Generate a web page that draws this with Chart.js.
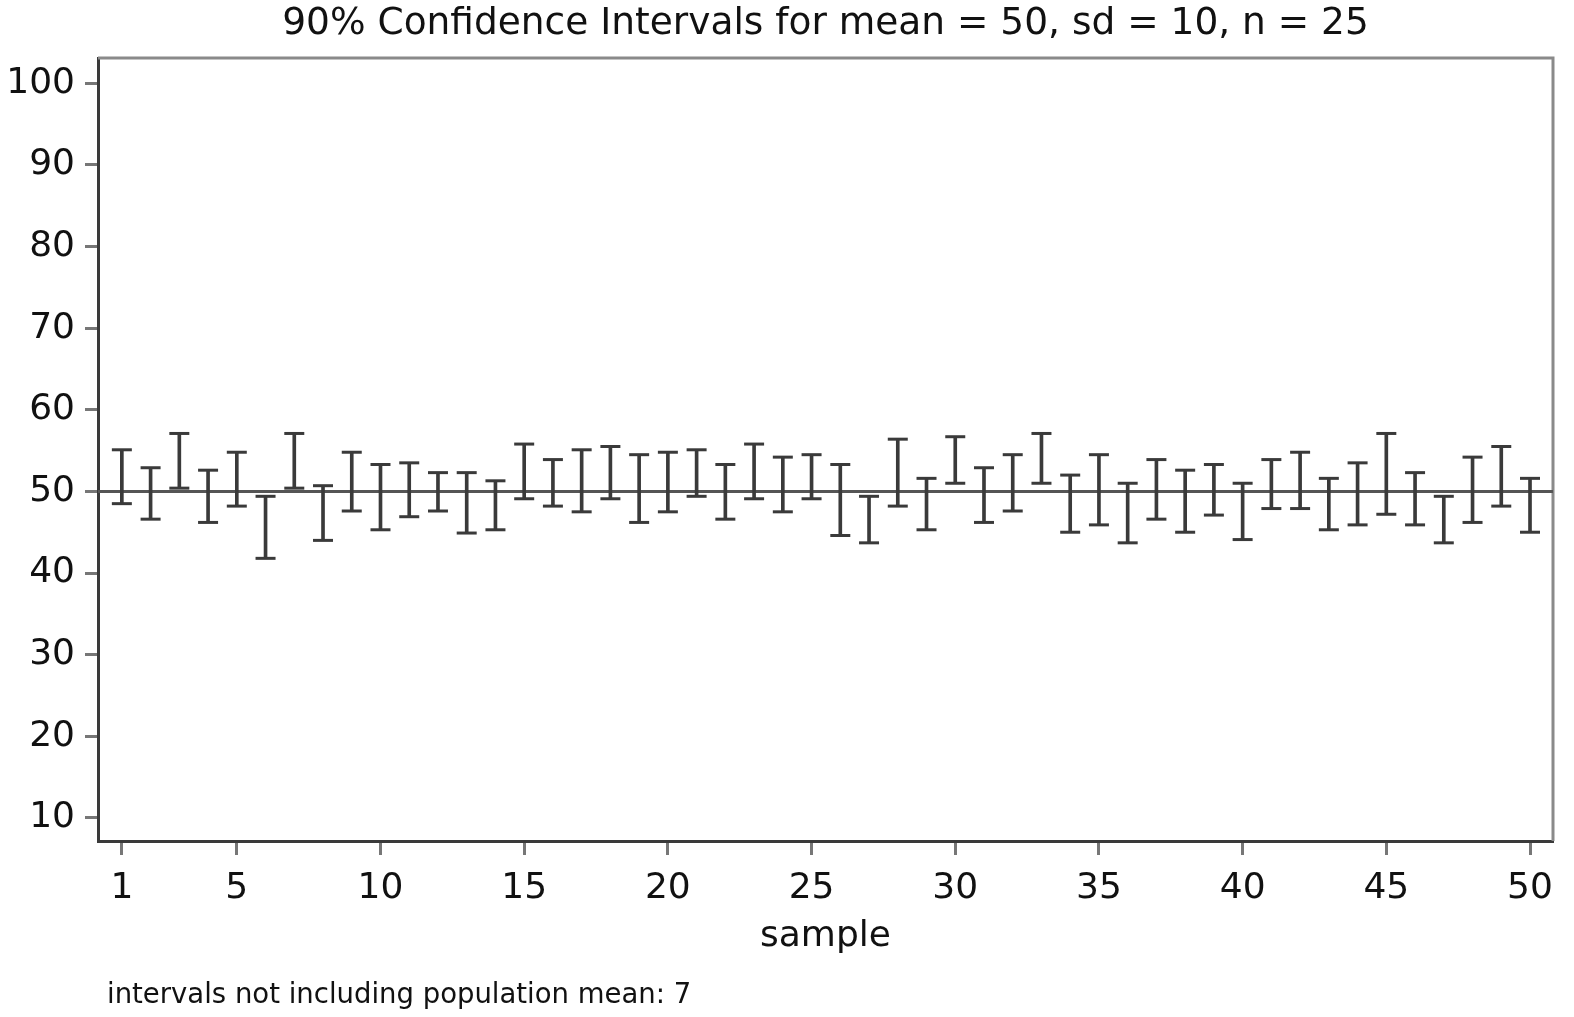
<!DOCTYPE html>
<html>
<head>
<meta charset="utf-8">
<script src="https://cdn.jsdelivr.net/npm/chart.js@4.4.1/dist/chart.umd.min.js"></script>
<style>
  body { margin: 0; background: #fff; }
  canvas { display: block; }
</style>
</head>
<body>
<canvas id="ciChart" width="1574" height="1017"></canvas>
<script>
// sample number for each interval
var samples = [1,2,3,4,5,6,7,8,9,10,11,12,13,14,15,16,17,18,19,20,21,22,23,24,25,
               26,27,28,29,30,31,32,33,34,35,36,37,38,39,40,41,42,43,44,45,46,47,48,49,50]

// upper and lower limits of the 90% intervals
var upper = [55.1,52.9,57.1,52.6,54.8,49.4,57.1,50.7,54.8,53.3,53.5,52.3,52.3,51.3,55.8,
             53.9,55.1,55.5,54.5,54.8,55.1,53.3,55.8,54.2,54.5,53.3,49.4,56.4,51.6,56.7,
             52.9,54.5,57.1,52.0,54.5,51.0,53.9,52.6,53.3,51.0,53.9,54.8,51.6,53.5,57.1,
             52.3,49.4,54.2,55.5,51.6]
var lower = [48.5,46.6,50.4,46.2,48.2,41.8,50.4,44.0,47.6,45.3,46.9,47.6,44.9,45.3,49.1,
             48.2,47.5,49.1,46.2,47.5,49.4,46.6,49.1,47.5,49.1,44.6,43.7,48.2,45.3,51.0,
             46.2,47.6,51.0,45.0,45.9,43.7,46.6,45.0,47.1,44.1,47.9,47.9,45.3,45.9,47.2,
             45.9,43.7,46.2,48.2,45.0]

var popMean = 50
var xTicks = [1,5,10,15,20,25,30,35,40,45,50]
var yTicks = [10,20,30,40,50,60,70,80,90,100]
var xMin = 0.17, xMax = 50.8
var yMin = 7.17, yMax = 103.1

var titleText = "90% Confidence Intervals for mean = 50, sd = 10, n = 25"
var noteText = "intervals not including population mean: " + 7

var ink = "#3a3a3a"

Chart.defaults.font.family = "'DejaVu Sans', sans-serif"
Chart.defaults.color = "#111"

var stems = [], tops = [], bottoms = []
for (var i = 0; i < samples.length; i++) {
    stems.push({x: samples[i], y: [lower[i], upper[i]]})
    tops.push({x: samples[i], y: upper[i]})
    bottoms.push({x: samples[i], y: lower[i]})
}

// title, footnote and the grey frame on top / right
var frameAndText = {
    id: 'frameAndText',
    beforeDatasetsDraw: function(chart) {
        var ctx = chart.ctx, a = chart.chartArea
        ctx.save()
        ctx.strokeStyle = "#8a8a8a"
        ctx.lineWidth = 3
        ctx.beginPath()
        ctx.moveTo(a.left, a.top)
        ctx.lineTo(a.right, a.top)
        ctx.lineTo(a.right, a.bottom)
        ctx.stroke()
        ctx.restore()
    },
    afterDraw: function(chart) {
        var ctx = chart.ctx, a = chart.chartArea
        ctx.save()
        ctx.fillStyle = "#111"
        ctx.textAlign = "center"
        ctx.textBaseline = "middle"
        ctx.font = "37.5px 'DejaVu Sans'"
        ctx.fillText(titleText, (a.left + a.right) / 2, 24)
        ctx.textAlign = "left"
        ctx.textBaseline = "alphabetic"
        ctx.font = "27.5px 'DejaVu Sans'"
        ctx.fillText(noteText, a.left + 9, 1003)
        ctx.restore()
    }
}

var chart = new Chart(document.getElementById("ciChart").getContext('2d'), {
    data: {
        datasets: [
            {
                type: 'line',
                data: [{x: xMin, y: popMean}, {x: xMax, y: popMean}],
                borderColor: "#555",
                borderWidth: 3,
                pointRadius: 0,
                order: 3
            },
            {
                type: 'bar',
                data: stems,
                backgroundColor: ink,
                borderWidth: 0,
                barThickness: 3,
                grouped: false,
                order: 2
            },
            {
                type: 'scatter',
                data: tops,
                pointStyle: 'line',
                radius: 10,
                borderColor: ink,
                borderWidth: 3,
                order: 1
            },
            {
                type: 'scatter',
                data: bottoms,
                pointStyle: 'line',
                radius: 10,
                borderColor: ink,
                borderWidth: 3,
                order: 1
            }
        ]
    },
    options: {
        responsive: false,
        animation: false,
        events: [],
        layout: { padding: { top: 58, right: 21, bottom: 59, left: 0 } },
        plugins: {
            legend: { display: false },
            tooltip: { enabled: false }
        },
        scales: {
            x: {
                type: 'linear',
                min: xMin,
                max: xMax,
                offset: false,
                afterBuildTicks: function(scale) {
                    scale.ticks = xTicks.map(function(v){ return {value: v} })
                },
                afterFit: function(scale) { scale.height = 117 },
                ticks: { font: { size: 36 }, color: "#111", padding: 12, maxRotation: 0, autoSkip: false },
                grid: { offset: false, drawOnChartArea: false, tickLength: 14, tickWidth: 3, tickColor: "#777" },
                border: { color: ink, width: 3 },
                title: { display: true, text: "sample", font: { size: 36 }, color: "#111", padding: { top: 0, bottom: 0 } }
            },
            y: {
                type: 'linear',
                min: yMin,
                max: yMax,
                afterBuildTicks: function(scale) {
                    scale.ticks = yTicks.map(function(v){ return {value: v} })
                },
                afterFit: function(scale) { scale.width = 98 },
                ticks: { font: { size: 36 }, color: "#111", padding: 10 },
                grid: { drawOnChartArea: false, tickLength: 13, tickWidth: 3, tickColor: "#777" },
                border: { color: ink, width: 3 }
            }
        }
    },
    plugins: [frameAndText]
})
</script>
</body>
</html>
